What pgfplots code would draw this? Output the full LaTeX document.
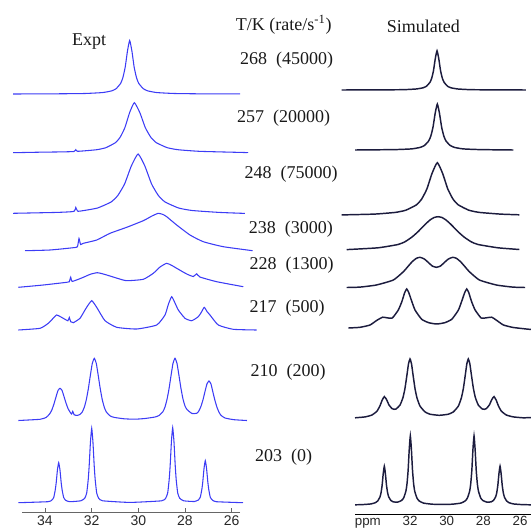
\documentclass[border=0pt]{standalone}
\usepackage{pgfplots}
\pgfplotsset{compat=1.18}
\usepackage{fontspec}
\setmainfont{Liberation Serif}
\newfontfamily\ticksf{Liberation Sans}
\definecolor{expblue}{RGB}{60,60,245}
\definecolor{simnavy}{RGB}{28,28,62}
\pgfplotsset{
  exp/.style={expblue, line width=0.8pt, no markers, smooth, tension=0.3},
  sim/.style={simnavy, line width=1.1pt, no markers, smooth, tension=0.3},
}
\begin{document}
\begin{tikzpicture}
\path[use as bounding box] (0,0) rectangle (398.25pt,-396pt);
% ---------------- Experimental ----------------
\begin{axis}[
  at={(16.43pt,-384pt)}, anchor=south west, scale only axis,
  width=163.6pt, height=384pt,
  xmin=25.64, xmax=34.99, x dir=reverse, ymin=16, ymax=528,
  axis x line*=bottom, axis y line=none, clip=false,
  xtick={26,28,30,32,34},
  tick align=inside, major tick length=3pt,
  xtick style={black!60, line width=0.6pt},
  axis line style={black!60, line width=0.7pt},
  /pgf/number format/assume math mode=true,
  xticklabel style={font=\ticksf\fontsize{10.5}{12}\selectfont, text=black!85, inner sep=0pt, anchor=base, yshift=-10.1pt},
]
% 268 K
\addplot[exp] coordinates {(35.37,434.0)(33.5,434.2)(32.30,434.5)(31.53,435.45)(31.14,437.15)(30.95,439.35)(30.756,444.7)(30.66,450.5)(30.563,460.75)(30.466,476.8)(30.37,487.5)(30.274,476.8)(30.177,460.75)(30.08,450.5)(29.984,444.7)(29.79,439.35)(29.6,437.15)(29.21,435.45)(28.44,434.5)(27,434.1)(25.64,434.2)};
% 257 K
\addplot[exp] coordinates {(35.37,375.3)(34.24,375.8)(33.3,376.1)(32.76,376.5)(32.68,378.3)(32.60,376.7)(31.798,378.25)(31.391,380.3)(30.984,385.3)(30.781,390.7)(30.577,400.3)(30.374,415.3)(30.17,425.3)(29.934,415.3)(29.699,400.3)(29.463,390.7)(29.228,385.3)(28.757,380.3)(28.286,378.25)(27.344,376.65)(25.46,375.5)(25.34,375.3)};
% 248 K
\addplot[exp] coordinates {(35.37,314.7)(33.484,315.6)(32.76,316.6)(32.68,320.5)(32.60,316.8)(32.326,317.5)(31.747,320)(31.168,326)(30.879,332.5)(30.589,344)(30.30,362)(30.01,374)(29.72,362)(29.431,344)(29.141,332.5)(28.852,326)(28.273,320)(27.694,317.5)(26.536,315.6)(25.43,314.6)};
% 238 K
\addplot[exp] coordinates {(34.857,277.3)(33.786,278)(32.787,280.3)(32.61,281.3)(32.543,289.5)(32.475,283.5)(32.359,284.7)(31.784,288)(31.214,294.7)(30.498,300.7)(29.787,307.3)(29.414,312)(29.144,314.7)(28.942,313.5)(28.784,311.3)(28.355,303)(27.785,293)(27.215,286.3)(26.357,281.3)(25.098,277.3)};
% 228 K
\addplot[exp] coordinates {(35.145,240.7)(34.073,243)(33.07,245.7)(32.96,246.2)(32.899,250.8)(32.83,246.6)(32.358,250.7)(32.05,253.8)(31.758,255.3)(31.5,254)(31.214,252)(30.87,249.5)(30.498,247.3)(29.787,248.7)(29.358,254.7)(29.07,261)(28.784,264.7)(28.56,262.5)(28.355,259.7)(27.926,254)(27.644,251.5)(27.498,254.2)(27.36,251)(26.64,246.3)(25.50,241.3)};
% 217 K
\addplot[exp] coordinates {(35.145,198)(34.214,199.7)(33.859,204.7)(33.679,209)(33.499,213)(33.216,209.7)(33.02,207.2)(32.958,210.5)(32.90,206.3)(32.787,205.3)(32.5,209.7)(32.286,218)(32.136,223.5)(31.998,227.3)(31.878,224)(31.758,219.7)(31.428,207.3)(30.927,200.7)(30.07,199)(29.212,203)(28.857,213)(28.707,224)(28.569,231.3)(28.428,225)(28.286,218)(27.999,209.7)(27.712,207.3)(27.429,211.3)(27.292,216)(27.172,220.7)(27.056,216.5)(26.928,213)(26.572,203)(25.929,198.7)(24.926,198)};
% 210 K
\addplot[exp] coordinates {(35.145,107.5)(34.214,108.7)(33.957,110.5)(33.872,112.2)(33.786,114.6)(33.700,118.4)(33.614,124.2)(33.529,131)(33.443,137.5)(33.357,139.7)(33.271,137.7)(33.186,131.5)(33.100,125)(33.014,119.5)(32.929,116)(32.86,114)(32.81,116.6)(32.75,113.2)(32.62,112.6)(32.50,113.6)(32.401,116.1)(32.316,120.7)(32.230,128.2)(32.144,139)(32.059,152.2)(31.973,164.6)(31.887,169.7)(31.801,164.6)(31.716,152.2)(31.630,139)(31.544,128.2)(31.458,120.7)(31.373,116.1)(31.201,112)(31.030,110.6)(30.601,109.2)(30.143,108.8)(29.714,109.5)(29.285,111)(29.114,112.5)(28.942,116.5)(28.857,121)(28.771,128.5)(28.685,139)(28.599,152.2)(28.514,164.6)(28.428,169.7)(28.342,164.6)(28.257,152.4)(28.171,139.5)(28.085,129)(27.999,122)(27.914,118.5)(27.699,114.5)(27.485,114.8)(27.399,117.3)(27.314,121.7)(27.228,128.2)(27.142,136.5)(27.056,144.2)(26.971,147)(26.885,144)(26.799,135.5)(26.714,127.5)(26.628,120.7)(26.542,115.8)(26.456,112.7)(26.285,110)(25.899,108.3)(25.342,107.5)};
% 203 K
\addplot[exp] coordinates {(35.145,25.3)(33.884,26.3)(33.713,27.7)(33.627,30.5)(33.563,37.7)(33.520,45.3)(33.467,58.1)(33.413,65.3)(33.359,58.1)(33.306,45.3)(33.263,37.7)(33.199,30.5)(33.113,27.7)(32.941,26.3)(32.470,27.2)(32.298,29.7)(32.213,35)(32.148,48.2)(32.106,62.3)(32.052,86)(31.998,99.7)(31.945,86)(31.891,62.3)(31.848,48.2)(31.784,35)(31.698,29.7)(31.527,27.2)(30.357,25.6)(29.000,27.2)(28.827,29.8)(28.741,35.1)(28.677,48.5)(28.634,62.8)(28.580,86.8)(28.527,100.3)(28.473,86.8)(28.419,62.8)(28.377,48.5)(28.312,35.1)(28.227,29.8)(28.055,27.2)(27.601,26.5)(27.429,28)(27.344,30.8)(27.279,38.3)(27.236,46.3)(27.183,59.7)(27.129,67.3)(27.076,59.7)(27.022,46.3)(26.979,38.3)(26.915,30.8)(26.829,28)(26.658,26.3)(25.513,25.3)};
\end{axis}
% ---------------- Simulated ----------------
\begin{axis}[
  at={(266.27pt,-385.875pt)}, anchor=south west, scale only axis,
  width=132pt, height=385.875pt,
  xmin=25.4, xmax=35.0, x dir=reverse, ymin=13.5, ymax=528,
  axis x line*=bottom, axis y line=none, clip=false,
  xtick={26,28,30,32,34.3}, xticklabels={26,28,30,32,ppm},
  major tick length=0pt,
  axis line style={black, line width=1.4pt},
  /pgf/number format/assume math mode=true,
  xticklabel style={font=\ticksf\fontsize{10}{12}\selectfont, text=black!85, inner sep=0pt, anchor=base, yshift=-8.1pt},
]
% 268 K
\addplot[sim] coordinates {(35.727,438.0)(34.346,438.1)(32.437,438.3)(31.673,439.0)(31.291,440.2)(31.100,441.8)(30.909,445.8)(30.814,450.0)(30.718,457.6)(30.623,469.3)(30.527,477.2)(30.432,469.3)(30.337,457.6)(30.241,450.0)(30.146,445.8)(29.955,441.8)(29.764,440.2)(29.382,439.0)(28.618,438.3)(26.709,438.1)(25.688,438.0)};
% 257 K
\addplot[sim] coordinates {(35.001,378.0)(32.857,378.4)(31.919,379.1)(31.449,380.6)(31.215,382.5)(30.980,387.1)(30.863,392.1)(30.746,400.9)(30.628,414.7)(30.511,423.9)(30.394,414.7)(30.276,400.9)(30.159,392.1)(30.042,387.1)(29.807,382.5)(29.572,380.6)(29.103,379.1)(28.165,378.4)(26.365,378.0)};
% 248 K
\addplot[sim] coordinates {(35.727,313.1)(33.948,313.9)(32.802,315.6)(32.229,317.8)(31.657,323.1)(31.370,328.8)(31.084,338.9)(30.798,354.7)(30.511,365.3)(30.225,354.7)(29.938,338.9)(29.652,328.8)(29.365,323.1)(28.793,317.8)(28.220,315.6)(27.074,313.9)(26.037,313.2)};
% 238 K
\addplot[sim] coordinates {(35.453,278.4)(33.746,280.2)(32.655,283.5)(32.273,286.3)(31.891,291)(31.564,296.3)(31.182,303.5)(30.909,308)(30.691,310.5)(30.473,311.3)(30.255,310.5)(30.036,308)(29.764,303.5)(29.382,296.3)(29.054,291)(28.673,286.3)(28.291,283.5)(27.200,280.2)(26.038,278.5)};
% 228 K
\addplot[sim] coordinates {(35.454,240.5)(34.728,240.9)(33.836,243)(32.909,248)(32.363,256.3)(32.091,262)(31.872,266.5)(31.654,269.7)(31.455,270.7)(31.218,269)(31.000,265.5)(30.781,261.9)(30.563,260.7)(30.345,261.9)(30.127,265.5)(29.908,269)(29.671,270.7)(29.472,269.7)(29.254,266.5)(29.036,262)(28.763,256.3)(28.217,248)(27.290,243)(26.398,240.9)(25.727,240.5)};
% 217 K
\addplot[sim] coordinates {(35.366,200)(34.728,200.7)(34.183,203)(33.801,207.8)(33.490,210.8)(33.255,210.2)(32.966,210)(32.639,218)(32.453,226)(32.366,231)(32.290,235.5)(32.181,239)(32.071,235.5)(31.962,229.7)(31.728,218)(31.362,208.7)(30.980,205.3)(30.544,204)(30.107,205.3)(29.725,208.7)(29.360,218)(29.125,229.7)(29.017,235.5)(28.907,239)(28.798,235.5)(28.722,231)(28.634,226)(28.449,218)(28.121,210)(27.833,210.2)(27.543,210.8)(27.287,207.8)(26.905,203)(26.359,200.5)(25.399,198.5)};
% 210 K
\addplot[sim] coordinates {(35.001,110.2)(34.455,111.1)(34.074,113)(33.801,116.9)(33.637,122.3)(33.528,127.5)(33.402,131.4)(33.282,128.5)(33.146,123)(32.982,119.4)(32.873,118.7)(32.764,119)(32.546,122.9)(32.382,130.6)(32.273,139.9)(32.164,153.6)(32.082,164.3)(32.000,169.05)(31.918,164.1)(31.837,153.3)(31.728,139.4)(31.619,130)(31.455,121.9)(31.182,116.1)(30.909,113.8)(30.410,112.7)(29.911,113.8)(29.638,116.1)(29.365,121.9)(29.202,130)(29.092,139.4)(28.983,153.3)(28.902,164.1)(28.820,169.05)(28.738,164.3)(28.656,153.6)(28.547,139.9)(28.438,130.6)(28.274,122.9)(28.056,119)(27.947,118.7)(27.838,119.4)(27.674,123)(27.538,128.5)(27.418,131.4)(27.292,127.5)(27.183,122.3)(27.019,116.9)(26.747,113)(26.365,111.1)(25.819,110.2)(25.399,110.5)};
% 203 K
\addplot[sim] coordinates {(35.001,23.2)(34.603,23.4)(34.123,24.1)(33.883,25.4)(33.763,27)(33.643,30.9)(33.583,35.1)(33.523,42.5)(33.463,54.1)(33.402,61.8)(33.342,54.1)(33.283,42.6)(33.222,35.2)(33.162,31.1)(33.042,27.5)(32.922,26.2)(32.693,25.8)(32.464,27.5)(32.344,30.2)(32.224,37)(32.164,44.4)(32.104,57.6)(32.044,78.3)(31.984,92.1)(31.924,78.3)(31.864,57.6)(31.804,44.3)(31.744,36.8)(31.624,30)(31.504,27.1)(31.264,24.9)(30.784,23.8)(30.246,23.6)(29.709,23.8)(29.229,24.9)(28.989,27.1)(28.869,30)(28.749,36.8)(28.689,44.3)(28.629,57.6)(28.569,78.3)(28.509,92.1)(28.449,78.3)(28.389,57.6)(28.329,44.4)(28.269,37)(28.149,30.2)(28.029,27.5)(27.800,25.8)(27.570,26.2)(27.451,27.5)(27.331,31.1)(27.271,35.2)(27.211,42.6)(27.151,54.1)(27.090,61.8)(27.030,54.1)(26.970,42.5)(26.910,35.1)(26.850,30.9)(26.730,27)(26.610,25.4)(26.371,24.1)(25.890,23.4)(25.399,23.2)};
\end{axis}
% ---------------- Labels ----------------
\begin{scope}[x=0.75pt,y=-0.75pt, every node/.style={font=\fontsize{13.5}{16}\selectfont, inner sep=0pt, text=black!90}]
\node at (89,41.7) {Expt};
\node at (423.3,26.7) {Simulated};
\node at (283.8,25) {T/K (rate/s\textsuperscript{-1})};
\node at (286.7,60) {268\ \ (45000)};
\node at (283.5,118.3) {257\ \ (20000)};
\node at (291,174) {248\ \ (75000)};
\node at (290.8,229.3) {238\ \ (3000)};
\node at (291.7,265) {228\ \ (1300)};
\node at (287,308.3) {217\ \ (500)};
\node at (288,371.7) {210\ \ (200)};
\node at (283.5,456.7) {203\ \ (0)};
\end{scope}
\end{tikzpicture}
\end{document}
